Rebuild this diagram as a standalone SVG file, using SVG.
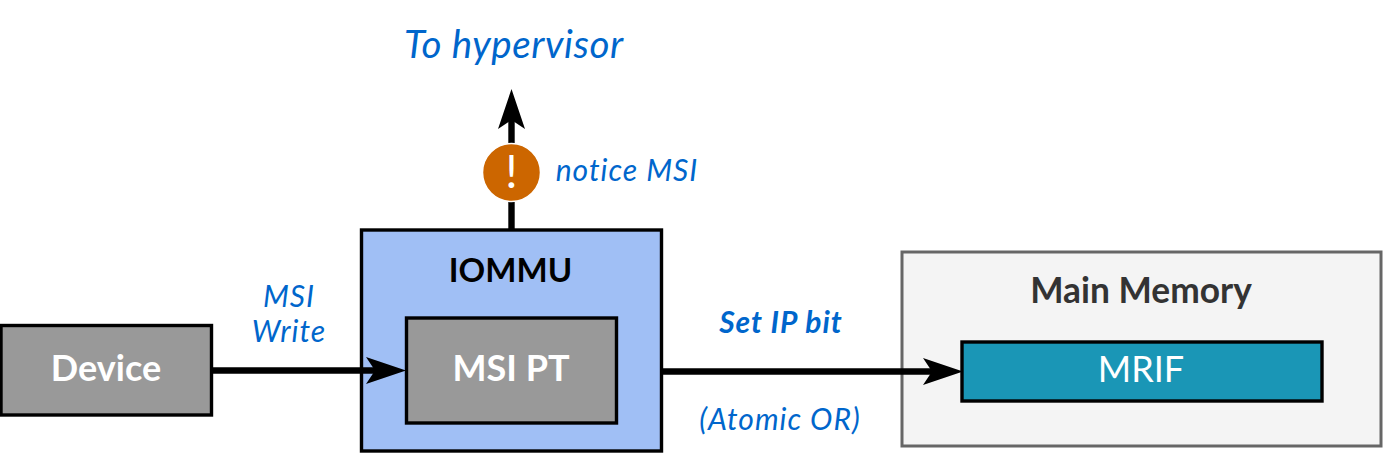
<svg xmlns="http://www.w3.org/2000/svg" width="1383" height="465" viewBox="0 0 1383 465">
<style>
text{font-family:"Lato","Noto Sans",sans-serif;text-anchor:middle}
.n{font-size:36px;font-weight:700}
.l{font-size:30px;font-style:italic;fill:#0066cc;letter-spacing:1px}
.c{fill:none;stroke:#000;stroke-width:6.4}
.b{stroke:#000;stroke-width:3.4}
</style>
<defs><marker id="a" markerUnits="userSpaceOnUse" markerWidth="44" markerHeight="30" refX="20" refY="15" orient="auto"><path d="M0 1.5L40 15L0 28.5L9 15Z" fill="#000"/></marker></defs>
<rect width="1383" height="465" fill="#fff"/>
<g id="device"><rect class="b" x="1" y="325.500" width="210.500" height="89.500" fill="#999"/><text class="n" x="106" y="381" fill="#fff">Device</text></g>
<g id="iommu"><rect class="b" x="361.500" y="230" width="300" height="221" fill="#a0bff5"/><text class="n" x="510.500" y="282" fill="#000" style="font-size:33px">IOMMU</text></g>
<g id="memory"><rect x="902" y="252" width="479" height="194" fill="#f4f4f4" stroke="#666" stroke-width="3"/><text class="n" x="1141" y="303" fill="#333" style="font-size:35.300px">Main Memory</text></g>
<g id="msipt"><rect class="b" x="406.500" y="318" width="210" height="105" fill="#999"/><text class="n" x="511" y="381" fill="#fff">MSI PT</text></g>
<g id="mrif"><rect class="b" x="962" y="342" width="360" height="59" fill="#1a96b6"/><text x="1141" y="382" font-size="36" fill="#fff">MRIF</text></g>
<g id="connectors">
<path class="c" d="M212 370.500H386" marker-end="url(#a)"/>
<path class="c" d="M662 371.500H943" marker-end="url(#a)"/>
<path class="c" d="M511.500 229V109" marker-end="url(#a)"/>
</g>
<g id="notice"><circle cx="511.500" cy="172.500" r="29" fill="#cc6600" stroke="#fff" stroke-width="1.500"/><text x="511.500" y="188" font-size="46" fill="#fff">!</text></g>
<g id="labels">
<text class="l" x="514" y="58" style="font-size:38.500px;letter-spacing:.6px">To hypervisor</text>
<text class="l" x="627" y="181">notice MSI</text>
<text class="l" x="289" y="307">MSI</text>
<text class="l" x="289" y="342">Write</text>
<text class="l" x="781" y="333" font-weight="700">Set IP bit</text>
<text class="l" x="780" y="430">(Atomic OR)</text>
</g>
</svg>
